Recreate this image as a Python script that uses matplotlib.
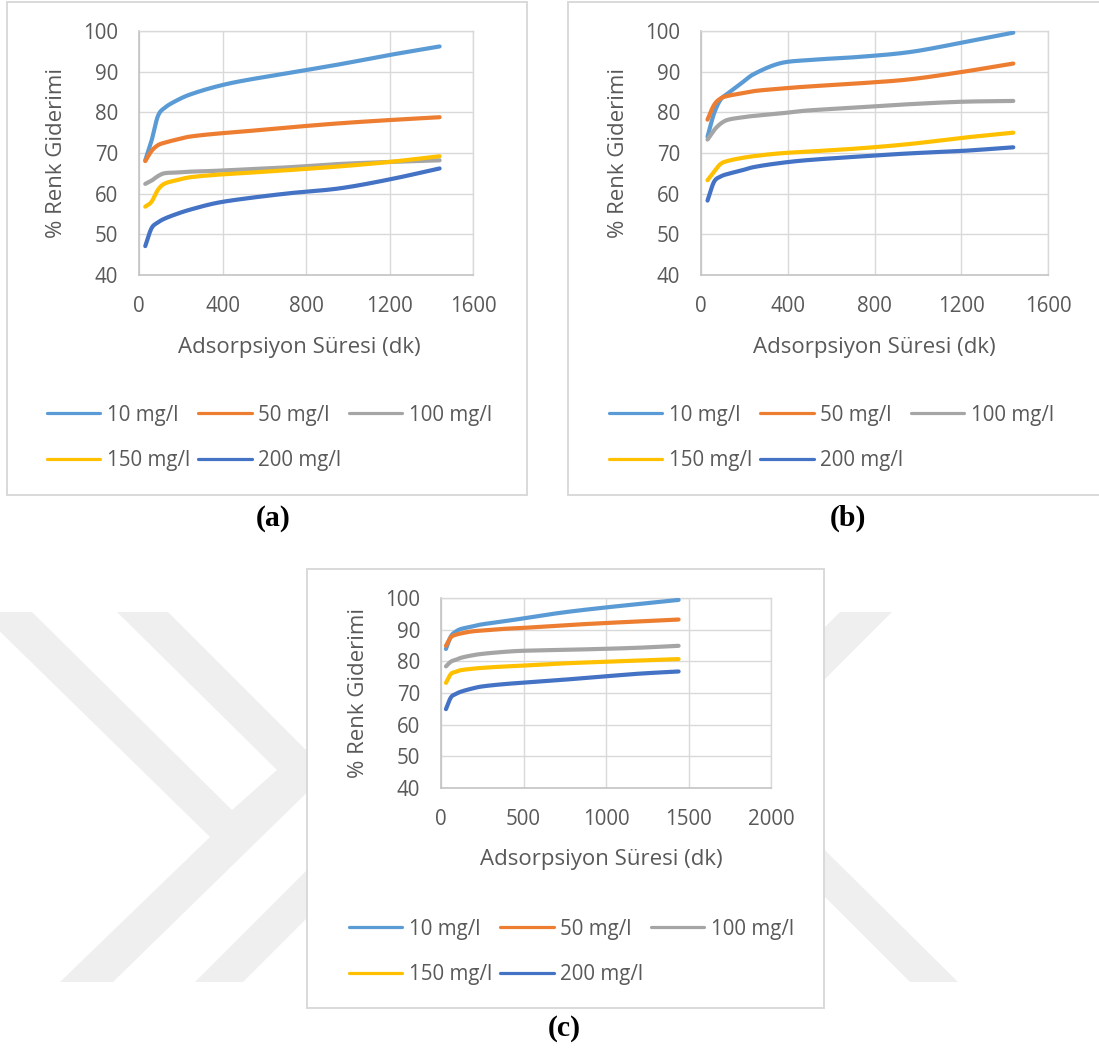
import matplotlib
matplotlib.use("Agg")
import matplotlib.pyplot as plt
import numpy as np
from matplotlib.lines import Line2D
from matplotlib.patches import Polygon, Rectangle

plt.rcParams.update({
    'font.family': 'Open Sans',
    'font.size': 14.8,
    'text.color': '#595959',
    'axes.labelcolor': '#595959',
    'xtick.color': '#595959',
    'ytick.color': '#595959',
})

# ── Data: colour removal (%) vs adsorption time (min) ───────────────
time_min = [30, 60, 90, 120, 180, 240, 360, 480, 720, 960, 1200, 1440]
labels = ["10 mg/l", "50 mg/l", "100 mg/l", "150 mg/l", "200 mg/l"]
colors = ['#5B9BD5', '#ED7D31', '#A5A5A5', '#FFC000', '#4472C4']

a_10 = [68.2, 73.0, 79.0, 81.0, 82.9, 84.3, 86.2, 87.6, 89.7, 91.8, 94.1, 96.2]
a_50 = [68.0, 70.5, 71.9, 72.5, 73.3, 74.0, 74.7, 75.2, 76.3, 77.3, 78.1, 78.8]
a_100 = [62.4, 63.2, 64.3, 65.0, 65.2, 65.4, 65.6, 65.9, 66.5, 67.3, 67.8, 68.2]
a_150 = [56.8, 58.0, 60.9, 62.4, 63.3, 64.0, 64.6, 65.0, 65.8, 66.7, 67.8, 69.2]
a_200 = [47.1, 51.5, 52.9, 53.8, 55.0, 56.0, 57.6, 58.6, 60.1, 61.3, 63.5, 66.2]

b_10 = [74.0, 79.7, 83.1, 84.5, 86.9, 89.3, 92.0, 92.8, 93.6, 94.8, 97.1, 99.6]
b_50 = [78.2, 81.8, 83.4, 84.0, 84.6, 85.2, 85.8, 86.3, 87.1, 88.1, 89.9, 92.0]
b_100 = [73.3, 75.6, 77.2, 78.1, 78.7, 79.1, 79.7, 80.4, 81.2, 82.0, 82.6, 82.8]
b_150 = [63.3, 65.4, 67.3, 68.0, 68.7, 69.2, 69.9, 70.3, 71.1, 72.2, 73.7, 75.0]
b_200 = [58.3, 62.9, 64.2, 64.8, 65.6, 66.5, 67.5, 68.2, 69.1, 69.9, 70.5, 71.4]

c_10 = [83.9, 87.9, 89.4, 90.2, 90.9, 91.6, 92.5, 93.4, 95.3, 96.8, 98.1, 99.4]
c_50 = [84.9, 87.6, 88.4, 88.8, 89.4, 89.7, 90.2, 90.5, 91.3, 92.0, 92.6, 93.2]
c_100 = [78.4, 79.9, 80.5, 81.1, 81.8, 82.3, 82.9, 83.3, 83.6, 83.9, 84.3, 84.9]
c_150 = [73.2, 76.0, 76.7, 77.2, 77.6, 77.9, 78.3, 78.6, 79.3, 79.8, 80.3, 80.7]
c_200 = [64.9, 68.6, 69.7, 70.4, 71.3, 72.0, 72.7, 73.2, 74.1, 75.1, 76.1, 76.8]

W, H = 1099, 1052


def smooth(x, y, n=30):
    """Cubic Hermite curve through the points, slopes from neighbours."""
    x = np.asarray(x, float)
    y = np.asarray(y, float)
    m = np.empty_like(y)
    m[1:-1] = (y[2:] - y[:-2]) / (x[2:] - x[:-2])
    m[0] = (y[1] - y[0]) / (x[1] - x[0])
    m[-1] = (y[-1] - y[-2]) / (x[-1] - x[-2])
    xs, ys = [], []
    t = np.linspace(0, 1, n, endpoint=False)
    h00 = 2 * t ** 3 - 3 * t ** 2 + 1
    h10 = t ** 3 - 2 * t ** 2 + t
    h01 = -2 * t ** 3 + 3 * t ** 2
    h11 = t ** 3 - t ** 2
    for i in range(len(x) - 1):
        d = x[i + 1] - x[i]
        xs.append(x[i] + d * t)
        ys.append(h00 * y[i] + h10 * d * m[i] + h01 * y[i + 1] + h11 * d * m[i + 1])
    xs.append([x[-1]])
    ys.append([y[-1]])
    return np.concatenate(xs), np.concatenate(ys)


def fx(px):
    return px / W


def fy(py):
    return 1 - py / H


fig = plt.figure(figsize=(W / 100, H / 100), dpi=100)

# background layer: faint watermark chevrons and the chart frames (pixel coords)
bg = fig.add_axes([0, 0, 1, 1], zorder=0)
bg.set_xlim(0, W)
bg.set_ylim(H, 0)
bg.axis('off')
wm = '#efefef'
shapes = [
    [(-20, 612), (32, 612), (232, 810), (277, 770), (117, 612), (168, 612),
     (328, 772), (113, 982), (60, 982), (210, 837)],
    [(195, 982), (243, 982), (420, 805), (372, 805)],
    [(840, 612), (892, 612), (739, 765), (958, 982), (910, 982), (690, 762)],
]
for pts in shapes:
    bg.add_patch(Polygon(pts, closed=True, fc=wm, ec='none', zorder=1))

frames = [(7, 2, 527, 495), (568, 2, 1112, 495), (307, 569, 824, 1008)]
for x0, y0, x1, y1 in frames:
    bg.add_patch(Rectangle((x0, y0), x1 - x0, y1 - y0, fc='white',
                           ec='#d9d9d9', lw=1.4, zorder=2))

for txt, px, py in [("(a)", 273, 518), ("(b)", 848, 518), ("(c)", 564, 1029)]:
    bg.text(px, py, txt, ha='center', va='center', fontsize=21.5,
            fontweight='bold', color='black', family='Liberation Serif')

panels = [
    # (data, axes pixel box, xmax, xstep, ylabel x, xlabel centre, legend origin)
    ([a_10, a_50, a_100, a_150, a_200], (139, 31, 473, 275), 1600, 400,
     57, (299, 347), (47, 415)),
    ([b_10, b_50, b_100, b_150, b_200], (701, 31, 1048, 275), 1600, 400,
     618, (874, 347), (609, 415)),
    ([c_10, c_50, c_100, c_150, c_200], (441, 598, 771, 788), 2000, 500,
     358, (601, 860), (349, 929)),
]

for series, (l, t, r, b), xmax, xstep, ylx, (xlx, xly), (lgx, lgy) in panels:
    ax = fig.add_axes([fx(l), fy(b), fx(r) - fx(l), fy(t) - fy(b)], zorder=3)
    ax.set_facecolor('none')
    for vals, col in zip(series, colors):
        sx, sy = smooth(time_min, vals)
        ax.plot(sx, sy, color=col, lw=3.0, solid_capstyle='round', zorder=3)

    ax.set_xlim(0, xmax)
    ax.set_ylim(40, 100)
    ax.set_xticks(np.arange(0, xmax + 1, xstep))
    ax.set_yticks(np.arange(40, 101, 10))
    ax.grid(True, color='#d9d9d9', lw=1.0)
    ax.set_axisbelow(True)
    ax.tick_params(length=0, pad=15, labelsize=14.8)
    for side in ['top', 'right']:
        ax.spines[side].set_color('#d9d9d9')
        ax.spines[side].set_linewidth(1.0)
    for side in ['left', 'bottom']:
        ax.spines[side].set_color('#c4c4c4')
        ax.spines[side].set_linewidth(1.2)

    ax.set_xlabel("Adsorpsiyon Süresi (dk)", fontsize=16)
    ax.xaxis.label.set_va('center')
    ax.xaxis.set_label_coords((xlx - l) / (r - l), -(xly - b) / (b - t))
    ax.set_ylabel("% Renk Giderimi", fontsize=16)
    ax.yaxis.label.set_va('center')
    ax.yaxis.set_label_coords((ylx - l) / (r - l), 0.5)

    # legend laid out row by row: 10, 50, 100 / 150, 200
    handles = [Line2D([0], [0], color=c, lw=2.3, solid_capstyle='round')
               for c in colors]
    order = [0, 3, 1, 4, 2]
    ax.legend([handles[i] for i in order], [labels[i] for i in order],
              ncol=3, frameon=False, loc='center left',
              bbox_to_anchor=(fx(lgx), fy(lgy + 23)),
              bbox_transform=fig.transFigure, borderpad=0, borderaxespad=0,
              handlelength=2.6, handletextpad=0.3, columnspacing=0.4,
              labelspacing=1.2, fontsize=14.8, labelcolor='#595959')

fig.savefig("out.png", dpi=100)
